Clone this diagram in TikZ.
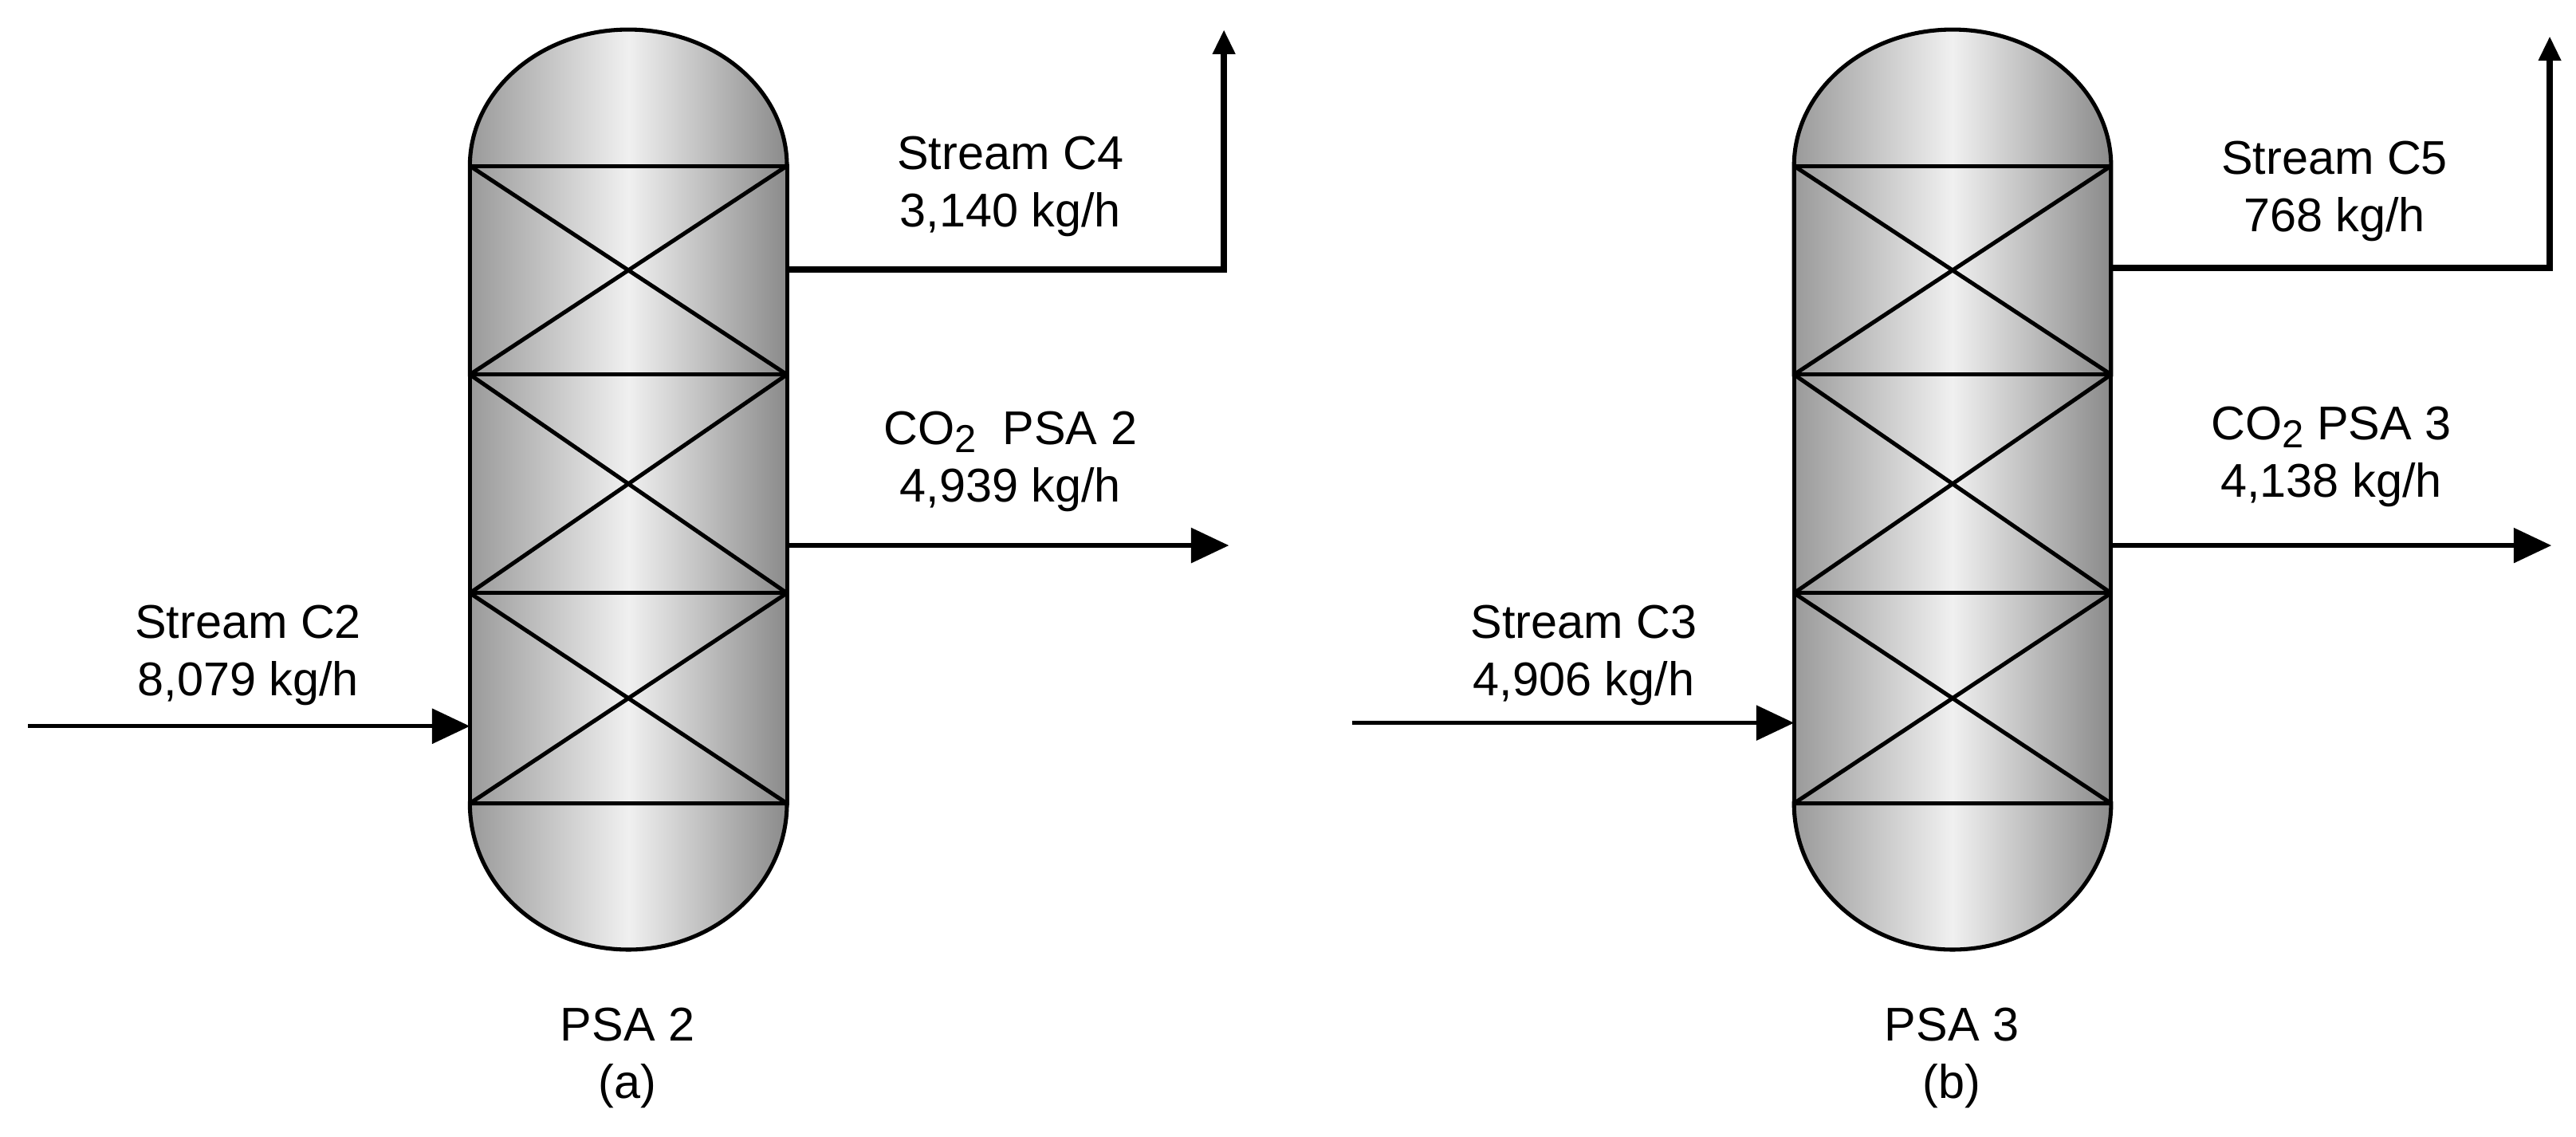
\documentclass[tikz,border=0pt]{standalone}
\usepackage{fontspec}
\setmainfont{Liberation Sans}
\usetikzlibrary{arrows.meta}
\definecolor{shelldark}{HTML}{9A9A9A}
\definecolor{shelllight}{HTML}{F0F0F0}
\newcommand{\subtwo}{\raisebox{-0.32ex}{\fontsize{13.5}{13.5}\selectfont 2}}
\tikzset{
  shell/.style={draw=black,line width=1.4pt,left color=shelldark,right color=shelldark!90!black,middle color=shelllight},
  stream/.style={line width=1.5pt,-{Triangle[length=0.46cm,width=0.42cm]}},
  vent/.style={line width=2.2pt,line join=miter,-{Triangle[length=0.3cm,width=0.26cm]}},
  lbl/.style={inner sep=0pt,align=center,font=\fontsize{16.4}{19.9}\selectfont},
  pics/vessel/.style={code={
    \path[shell] (-1.93,9.28)--(-1.93,11.82) arc[start angle=180,end angle=0,x radius=1.93,y radius=1.66]--(1.93,9.28)--cycle;
    \path[shell] (-1.93,11.82)--(-1.93,9.28)--(1.93,9.28)--(1.93,11.82)--cycle;
    \path[shell] (-1.93,9.28)--(-1.93,6.62)--(1.93,6.62)--(1.93,9.28)--cycle;
    \path[shell] (-1.93,6.62)--(-1.93,4.06)--(1.93,4.06)--(1.93,6.62)--cycle;
    \path[shell] (-1.93,4.06) arc[start angle=180,end angle=360,x radius=1.93,y radius=1.78]--cycle;
    \draw[line width=1.4pt] (-1.93,11.82)--(1.93,9.28) (1.93,11.82)--(-1.93,9.28);
    \draw[line width=1.4pt] (-1.93,9.28)--(1.93,6.62) (1.93,9.28)--(-1.93,6.62);
    \draw[line width=1.4pt] (-1.93,6.62)--(1.93,4.06) (1.93,6.62)--(-1.93,4.06);
  }}
}
\begin{document}
\begin{tikzpicture}
  \useasboundingbox (0,0) rectangle (31.36,13.84);
  \pic at (7.65,0) {vessel};
  \pic at (23.77,0) {vessel};

  % PSA 2
  \coordinate (feedA) at (0.34,5);
  \coordinate (inA) at (5.72,5);
  \coordinate (ventA) at (9.58,10.56);
  \coordinate (cornerA) at (14.9,10.56);
  \coordinate (topA) at (14.9,13.48);
  \coordinate (outA) at (9.58,7.2);
  \coordinate (co2A) at (14.96,7.2);
  \draw[stream] (feedA)--(inA);
  \draw[vent] (ventA)--(cornerA)--(topA);
  \draw[stream] (outA)--(co2A);
  \node[lbl] (ventAlbl) at (12.3,11.57) {Stream C4\\3,140 kg/h};
  \node[lbl] (co2Albl) at (12.3,8.22) {CO\subtwo{} \ PSA 2\\4,939 kg/h};
  \node[lbl] (feedAlbl) at (3.02,5.86) {Stream C2\\8,079 kg/h};
  \node[lbl] (nameA) at (7.64,0.96) {PSA 2\\(a)};

  % PSA 3
  \coordinate (feedB) at (16.46,5.04);
  \coordinate (inB) at (21.84,5.04);
  \coordinate (ventB) at (25.7,10.58);
  \coordinate (cornerB) at (31.04,10.58);
  \coordinate (topB) at (31.04,13.4);
  \coordinate (outB) at (25.7,7.2);
  \coordinate (co2B) at (31.06,7.2);
  \draw[stream] (feedB)--(inB);
  \draw[vent] (ventB)--(cornerB)--(topB);
  \draw[stream] (outB)--(co2B);
  \node[lbl] (ventBlbl) at (28.42,11.51) {Stream C5\\768 kg/h};
  \node[lbl] (co2Blbl) at (28.38,8.28) {CO\subtwo{} PSA 3\\4,138 kg/h};
  \node[lbl] (feedBlbl) at (19.28,5.86) {Stream C3\\4,906 kg/h};
  \node[lbl] (nameB) at (23.76,0.96) {PSA 3\\(b)};
\end{tikzpicture}
\end{document}
